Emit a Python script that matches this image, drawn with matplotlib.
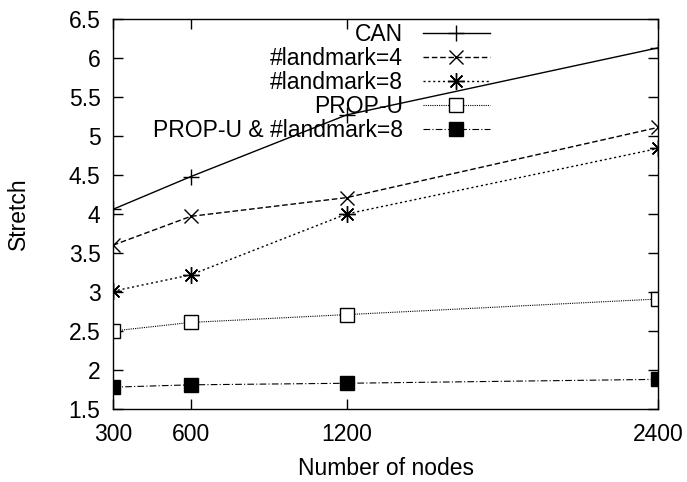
import matplotlib
matplotlib.use('Agg')
import matplotlib.pyplot as plt

plt.rcParams['font.family'] = ['Liberation Sans', 'DejaVu Sans']

nodes = [300, 600, 1200, 2400]
can = [4.06, 4.48, 5.27, 6.13]
lm4 = [3.60, 3.97, 4.21, 5.11]
lm8 = [3.01, 3.22, 4.00, 4.84]
propu = [2.50, 2.61, 2.71, 2.91]
propu_lm8 = [1.78, 1.81, 1.83, 1.88]

labels = ['CAN', '#landmark=4', '#landmark=8', 'PROP-U', 'PROP-U & #landmark=8']

fs = 16.5

fig = plt.figure(figsize=(6.87, 4.82), dpi=100)
ax = fig.add_axes([113/687, 73/482, 545/687, 390/482])

ax.plot(nodes, can, '-', color='black', lw=1, marker='+', ms=12, mew=1, label=labels[0])
ax.plot(nodes, lm4, color='black', lw=1, ls=(0, (4, 2)), marker='x', ms=10, mew=1, label=labels[1])
ax.plot(nodes, lm8, color='black', lw=1, ls=(0, (1.5, 2)), marker=(8, 2, 0), ms=12, mew=1, label=labels[2])
ax.plot(nodes, propu, color='black', lw=0.8, ls=(0, (1, 1)), marker='s', ms=10, mew=1,
        mfc='white', label=labels[3])
ax.plot(nodes, propu_lm8, color='black', lw=0.8, ls=(0, (6, 2, 1, 2)), marker='s', ms=10,
        mfc='black', label=labels[4])

ax.set_xlim(300, 2400)
ax.set_ylim(1.5, 6.5)
ax.set_xticks(nodes)
ax.set_yticks([1.5, 2, 2.5, 3, 3.5, 4, 4.5, 5, 5.5, 6, 6.5])
ax.set_yticklabels(['1.5', '2', '2.5', '3', '3.5', '4', '4.5', '5', '5.5', '6', '6.5'])
ax.tick_params(direction='in', top=True, right=True, length=7, width=1, labelsize=fs, pad=9)
ax.tick_params(axis='x', pad=10)
for s in ax.spines.values():
    s.set_linewidth(1)

ax.set_xlabel('Number of nodes', fontsize=fs, labelpad=8)
ax.set_ylabel('Stretch', fontsize=fs, labelpad=28)

leg = ax.legend(loc='upper right', bbox_to_anchor=(0.713, 1.02), markerfirst=False,
                frameon=False, fontsize=fs, handlelength=2.95, handletextpad=0.85,
                labelspacing=0.05, borderpad=0.0)

fig.savefig('out.png', dpi=100)
